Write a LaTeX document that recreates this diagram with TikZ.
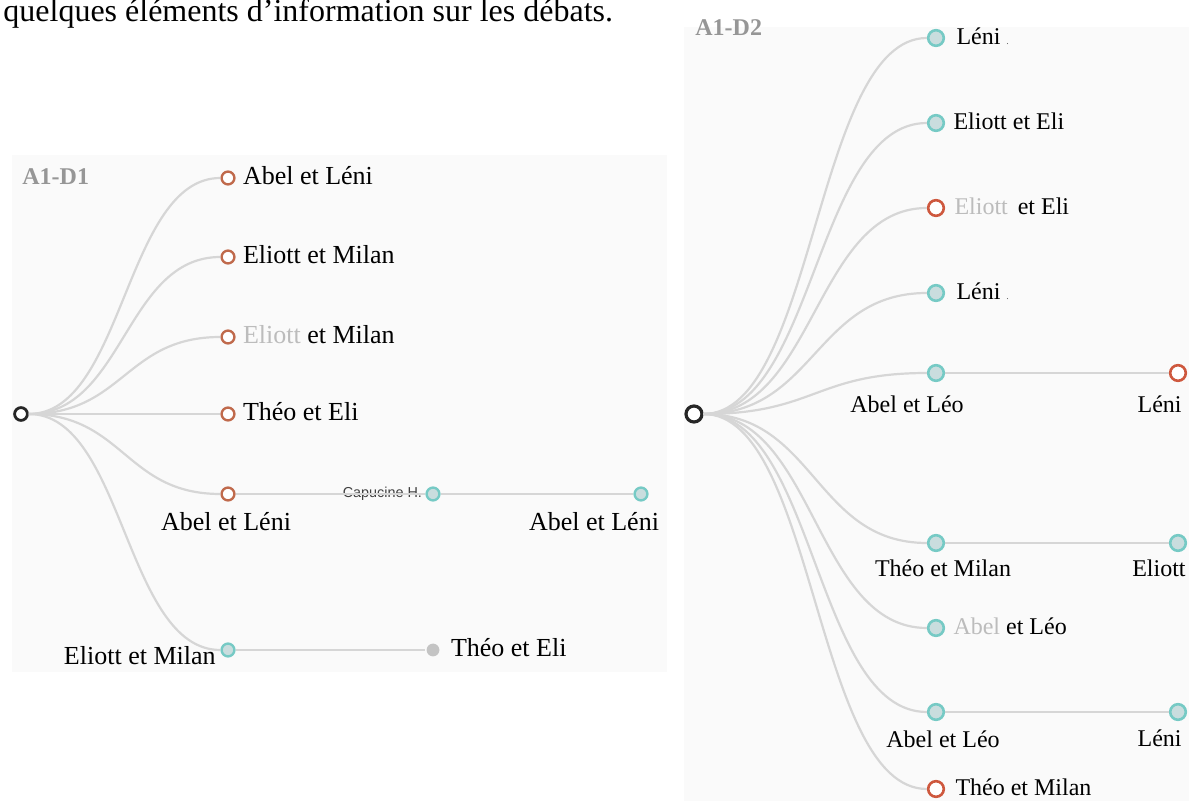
\documentclass[tikz,border=0pt]{standalone}
\usepackage{fontspec}
\setmainfont{Liberation Serif}
\newfontfamily\capfont{Liberation Sans}
\usetikzlibrary{positioning}
\definecolor{linkgray}{RGB}{214,214,214}
\definecolor{panel}{RGB}{250,250,250}
\definecolor{brownA}{RGB}{192,106,76}
\definecolor{brownB}{RGB}{206,88,62}
\definecolor{tealline}{RGB}{118,202,197}
\definecolor{tealfill}{RGB}{201,221,222}
\definecolor{grayfill}{RGB}{196,196,196}
\definecolor{titlegray}{RGB}{150,150,150}
\definecolor{fadename}{RGB}{188,188,188}

\begin{document}
\begin{tikzpicture}[x=.5pt, y=-.5pt,
    link/.style={draw=linkgray, line width=1.1pt, to path={.. controls +(#1,0) and +(-#1,0) .. (\tikztotarget)}},
    flat/.style={draw=linkgray, line width=1.1pt},
    dotA/.style={circle, inner sep=0pt, minimum size=6.4pt, line width=1.2pt},
    dotB/.style={circle, inner sep=0pt, minimum size=7.8pt, line width=1.3pt},
    brnA/.style={dotA, draw=brownA, fill=white},
    tealA/.style={dotA, draw=tealline, fill=tealfill},
    brnB/.style={dotB, draw=brownB, fill=white},
    tealB/.style={dotB, draw=tealline, fill=tealfill},
    lblA/.style={inner sep=0pt, text height=.68em, text depth=0pt, font=\fontsize{13}{15}\selectfont},
    lblB/.style={inner sep=0pt, text height=.68em, text depth=0pt, font=\fontsize{12}{14}\selectfont},
    ttl/.style={inner sep=0pt, text height=.68em, text depth=0pt, text=titlegray, font=\fontsize{12}{14}\selectfont\bfseries}]
\useasboundingbox (0,0) rectangle (1189,801);
\fill[panel] (12,155) rectangle (667,672);
\fill[panel] (684,27) rectangle (1189,801);
\node[anchor=base west, inner sep=0pt, font=\fontsize{16}{19}\selectfont] (intro) at (3,22) {quelques éléments d’information sur les débats.};

% A1-D1
\node[ttl, anchor=west] (t1) at (22,178) {A1-D1};
\node[dotA, minimum size=6.4pt, line width=1.4pt, draw=black!85, fill=white] (d1) at (21,414) {};
\node[brnA] (d1a) at (228,178) {};
\node[brnA] (d1b) at (228,257) {};
\node[brnA] (d1c) at (228,337) {};
\node[brnA] (d1d) at (228,414) {};
\node[brnA] (d1e) at (228,494) {};
\node[tealA] (d1f) at (228,650) {};
\node[tealA] (d1cap) at (433,494) {};
\node[tealA] (d1end) at (641,494) {};
\node[dotA, fill=grayfill] (d1gray) at (433,650) {};
\node[lblA, right=3.5pt of d1a] {Abel et Léni};
\node[lblA, right=3.5pt of d1b] {Eliott et Milan};
\node[lblA, right=3.5pt of d1c] {{\color{fadename}Eliott} et Milan};
\node[lblA, right=3.5pt of d1d] {Théo et Eli};
\node[lblA] at (226,524) {Abel et Léni};
\node[lblA] at (594,524) {Abel et Léni};
\node[lblA, anchor=east] at (216,658) {Eliott et Milan};
\node[lblA, right=5pt of d1gray] {Théo et Eli};
\node[inner sep=0pt, left=1.5pt of d1cap, font=\capfont\fontsize{7.2}{8}\selectfont, text=black!75] {Capucine H.};
\foreach \k in {a,b,c,d,e,f}
  \draw[link=103] (d1) to (d1\k);
\draw[flat] (d1e) -- (d1cap) -- (d1end);
\draw[flat] (d1f) -- (d1gray);

% A1-D2
\node[ttl, anchor=west] (t2) at (695,29) {A1-D2};
\node[dotB, minimum size=8pt, line width=1.6pt, draw=black!85, fill=white] (d2) at (694,414) {};
\node[tealB] (d2a) at (936,38) {};
\node[tealB] (d2b) at (936,123) {};
\node[brnB] (d2c) at (936,208) {};
\node[tealB] (d2d) at (936,293) {};
\node[tealB] (d2e) at (936,373) {};
\node[tealB] (d2f) at (936,543) {};
\node[tealB] (d2g) at (936,628) {};
\node[tealB] (d2h) at (936,712) {};
\node[brnB] (d2i) at (936,789) {};
\node[brnB] (d2x) at (1178,373) {};
\node[tealB] (d2y) at (1178,543) {};
\node[tealB] (d2z) at (1178,712) {};
\node[lblB, right=5.5pt of d2a] {Léni {\color{black!60}\tiny.}};
\node[lblB, right=4pt of d2b] {Eliott et Eli};
\node[lblB, right=4.5pt of d2c] {{\color{fadename}Eliott}\, et Eli};
\node[lblB, right=5.5pt of d2d] {Léni {\color{black!60}\tiny.}};
\node[lblB, right=4pt of d2g] {{\color{fadename}Abel} et Léo};
\node[lblB, right=5pt of d2i] {Théo et Milan};
\node[lblB] at (907,406) {Abel et Léo};
\node[lblB, anchor=east] at (1182,406) {Léni};
\node[lblB] at (943,570) {Théo et Milan};
\node[lblB, anchor=east] at (1186,570) {Eliott};
\node[lblB] at (943,741) {Abel et Léo};
\node[lblB, anchor=east] at (1182,740) {Léni};
\foreach \k in {a,b,c,d,e,f,g,h,i}
  \draw[link=121] (d2) to (d2\k);
\draw[flat] (d2e) -- (d2x);
\draw[flat] (d2f) -- (d2y);
\draw[flat] (d2h) -- (d2z);
\end{tikzpicture}
\end{document}
